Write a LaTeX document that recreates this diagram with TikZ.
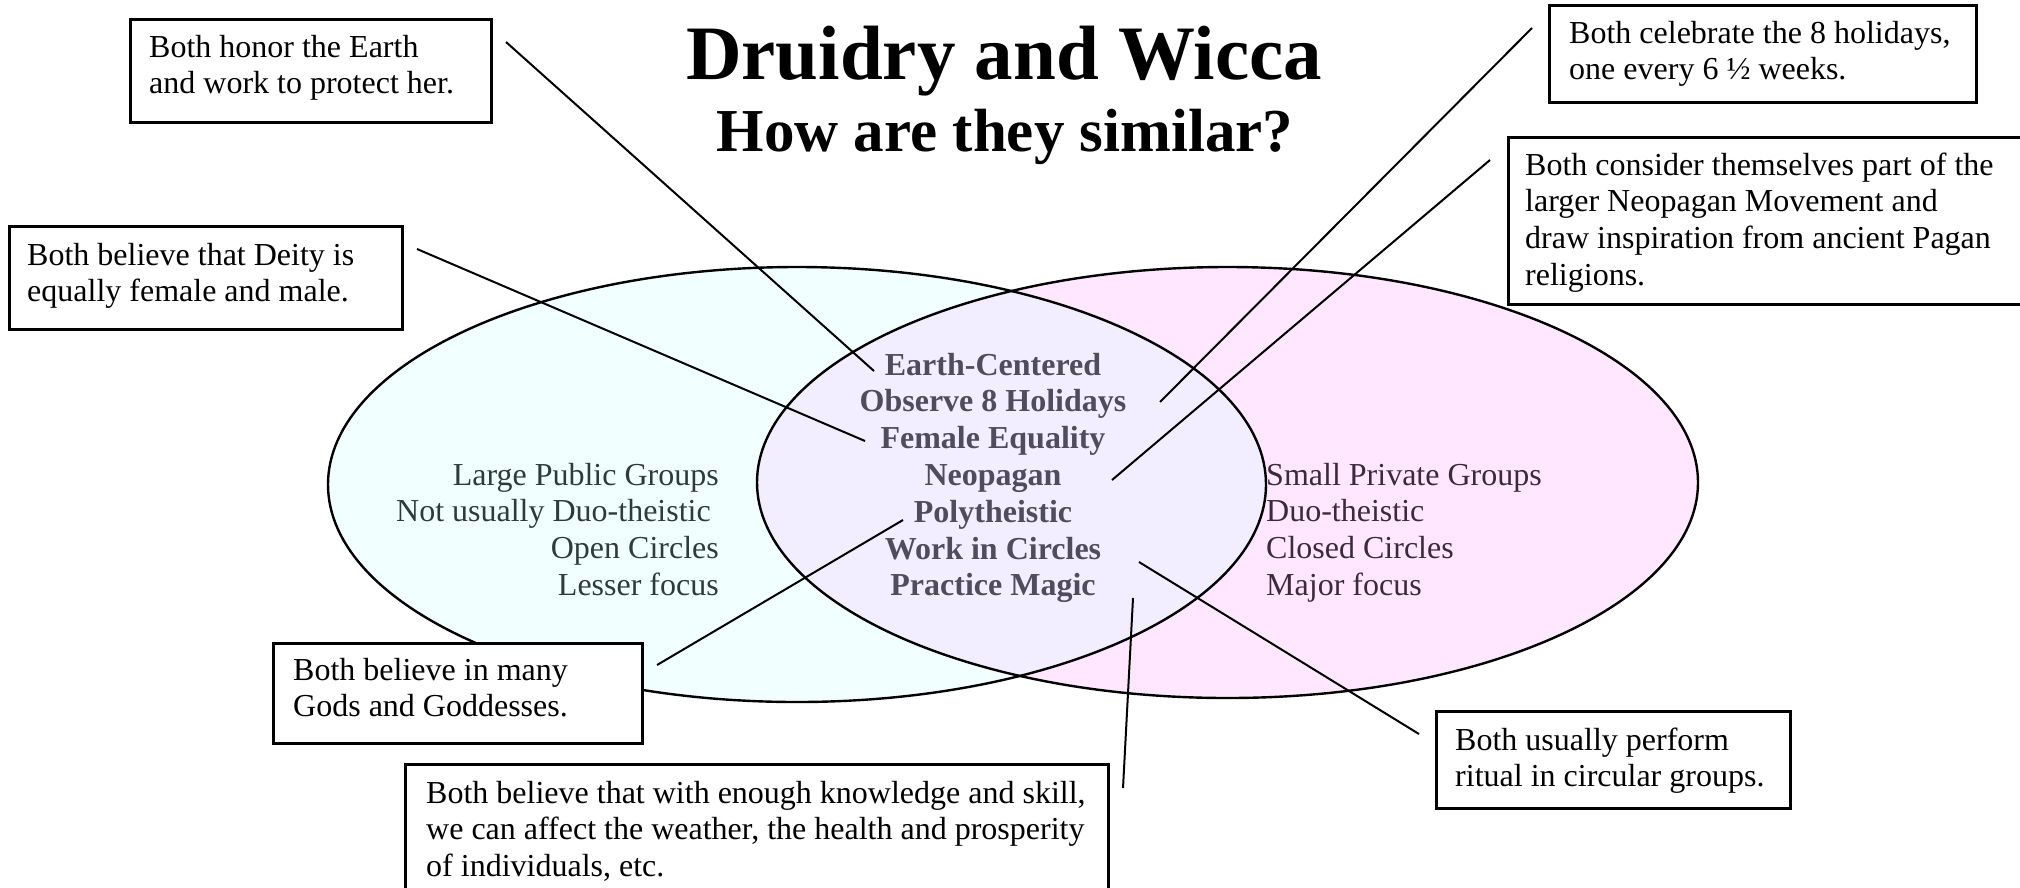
\documentclass[tikz,border=0pt]{standalone}
\usepackage{fontspec}
\setmainfont{Liberation Serif}
\definecolor{leftfill}{HTML}{F2FFFF}
\definecolor{rightfill}{HTML}{FFE8FF}
\definecolor{midfill}{HTML}{F2EEFF}
\definecolor{lefttext}{HTML}{2E3B3B}
\definecolor{righttext}{HTML}{3A2A3A}
\definecolor{midtext}{HTML}{514B5E}
\begin{document}
\begin{tikzpicture}[x=1pt,y=-1pt,
  box/.style={draw=black, line width=2.8pt, fill=white, rectangle, inner sep=0pt, anchor=north west},
  boxtext/.style={anchor=base west, inner sep=0pt, font=\fontsize{32}{36.8}\selectfont},
  venntext/.style={inner sep=0pt, font=\fontsize{32}{36.8}\selectfont},
  link/.style={line width=2pt, draw=black},
  ring/.style={line width=2.4pt, draw=black}
]
\useasboundingbox (0,0) rectangle (2020,887);
\fill[white] (0,0) rectangle (2020,887);

% Venn ellipses
\fill[leftfill] (797,484.5) ellipse [x radius=469pt, y radius=217.5pt];
\fill[rightfill] (1227.5,482.5) ellipse [x radius=470.5pt, y radius=215.5pt];
\begin{scope}
  \clip (797,484.5) ellipse [x radius=469pt, y radius=217.5pt];
  \fill[midfill] (1227.5,482.5) ellipse [x radius=470.5pt, y radius=215.5pt];
\end{scope}
\draw[ring] (797,484.5) ellipse [x radius=469pt, y radius=217.5pt];
\draw[ring] (1227.5,482.5) ellipse [x radius=470.5pt, y radius=215.5pt];

% Title
\node[anchor=base, inner sep=0pt, font=\fontsize{77}{80}\selectfont\bfseries] (title) at (1004,79) {Druidry and Wicca};
\node[anchor=base, inner sep=0pt, font=\fontsize{61}{64}\selectfont\bfseries] (subtitle) at (1005,151) {How are they similar?};

% Venn texts
\node[venntext, anchor=base east, text=lefttext] (lt) at (719,485)
  {\begin{tabular}[t]{@{}r@{}}Large Public Groups\\Not usually Duo-theistic\hspace*{8pt}\\Open Circles\\Lesser focus\end{tabular}};
\node[venntext, anchor=base west, text=righttext] (rt) at (1266,485)
  {\begin{tabular}[t]{@{}l@{}}Small Private Groups\\Duo-theistic\\Closed Circles\\Major focus\end{tabular}};
\node[venntext, anchor=base, text=midtext, font=\fontsize{32}{36.8}\selectfont\bfseries] (mt) at (993,375)
  {\begin{tabular}[t]{@{}c@{}}Earth-Centered\\Observe 8 Holidays\\Female Equality\\Neopagan\\Polytheistic\\Work in Circles\\Practice Magic\end{tabular}};

% Connector end points
\coordinate (a1) at (506,42);   \coordinate (a2) at (874,371);
\coordinate (b1) at (417,249);  \coordinate (b2) at (865,441);
\coordinate (c1) at (1532,28);  \coordinate (c2) at (1160,402);
\coordinate (d1) at (1490,160); \coordinate (d2) at (1112,480);
\coordinate (e1) at (903,520);  \coordinate (e2) at (657,665);
\coordinate (f1) at (1133,598); \coordinate (f2) at (1123,788);
\coordinate (g1) at (1139,562); \coordinate (g2) at (1419,734);
\draw[link] (a1) -- (a2);
\draw[link] (b1) -- (b2);
\draw[link] (c1) -- (c2);
\draw[link] (d1) -- (d2);
\draw[link] (e1) -- (e2);
\draw[link] (f1) -- (f2);
\draw[link] (g1) -- (g2);

% Boxes
\node[box, minimum width=361pt, minimum height=103pt] (bA) at (129,18) {};
\node[boxtext] (tA) at (149,57) {\begin{tabular}[t]{@{}l@{}}Both honor the Earth\\and work to protect her.\end{tabular}};

\node[box, minimum width=393pt, minimum height=103pt] (bB) at (8,225) {};
\node[boxtext] (tB) at (27,265) {\begin{tabular}[t]{@{}l@{}}Both believe that Deity is\\equally female and male.\end{tabular}};

\node[box, minimum width=427pt, minimum height=97pt] (bC) at (1548,4) {};
\node[boxtext] (tC) at (1569,43) {\begin{tabular}[t]{@{}l@{}}Both celebrate the 8 holidays,\\one every 6 ½ weeks.\end{tabular}};

\node[box, minimum width=530pt, minimum height=167pt] (bD) at (1507,136) {};
\node[boxtext] (tD) at (1525,175) {\begin{tabular}[t]{@{}l@{}}Both consider themselves part of the\\larger Neopagan Movement and\\draw inspiration from ancient Pagan\\religions.\end{tabular}};

\node[box, minimum width=369pt, minimum height=100pt] (bE) at (272,642) {};
\node[boxtext] (tE) at (293,680) {\begin{tabular}[t]{@{}l@{}}Both believe in many\\Gods and Goddesses.\end{tabular}};

\node[box, minimum width=703pt, minimum height=160pt] (bF) at (404,763) {};
\node[boxtext] (tF) at (426,803) {\begin{tabular}[t]{@{}l@{}}Both believe that with enough knowledge and skill,\\we can affect the weather, the health and prosperity\\of individuals, etc.\end{tabular}};

\node[box, minimum width=354pt, minimum height=97pt] (bG) at (1435,710) {};
\node[boxtext] (tG) at (1455,750) {\begin{tabular}[t]{@{}l@{}}Both usually perform\\ritual in circular groups.\end{tabular}};
\end{tikzpicture}
\end{document}
